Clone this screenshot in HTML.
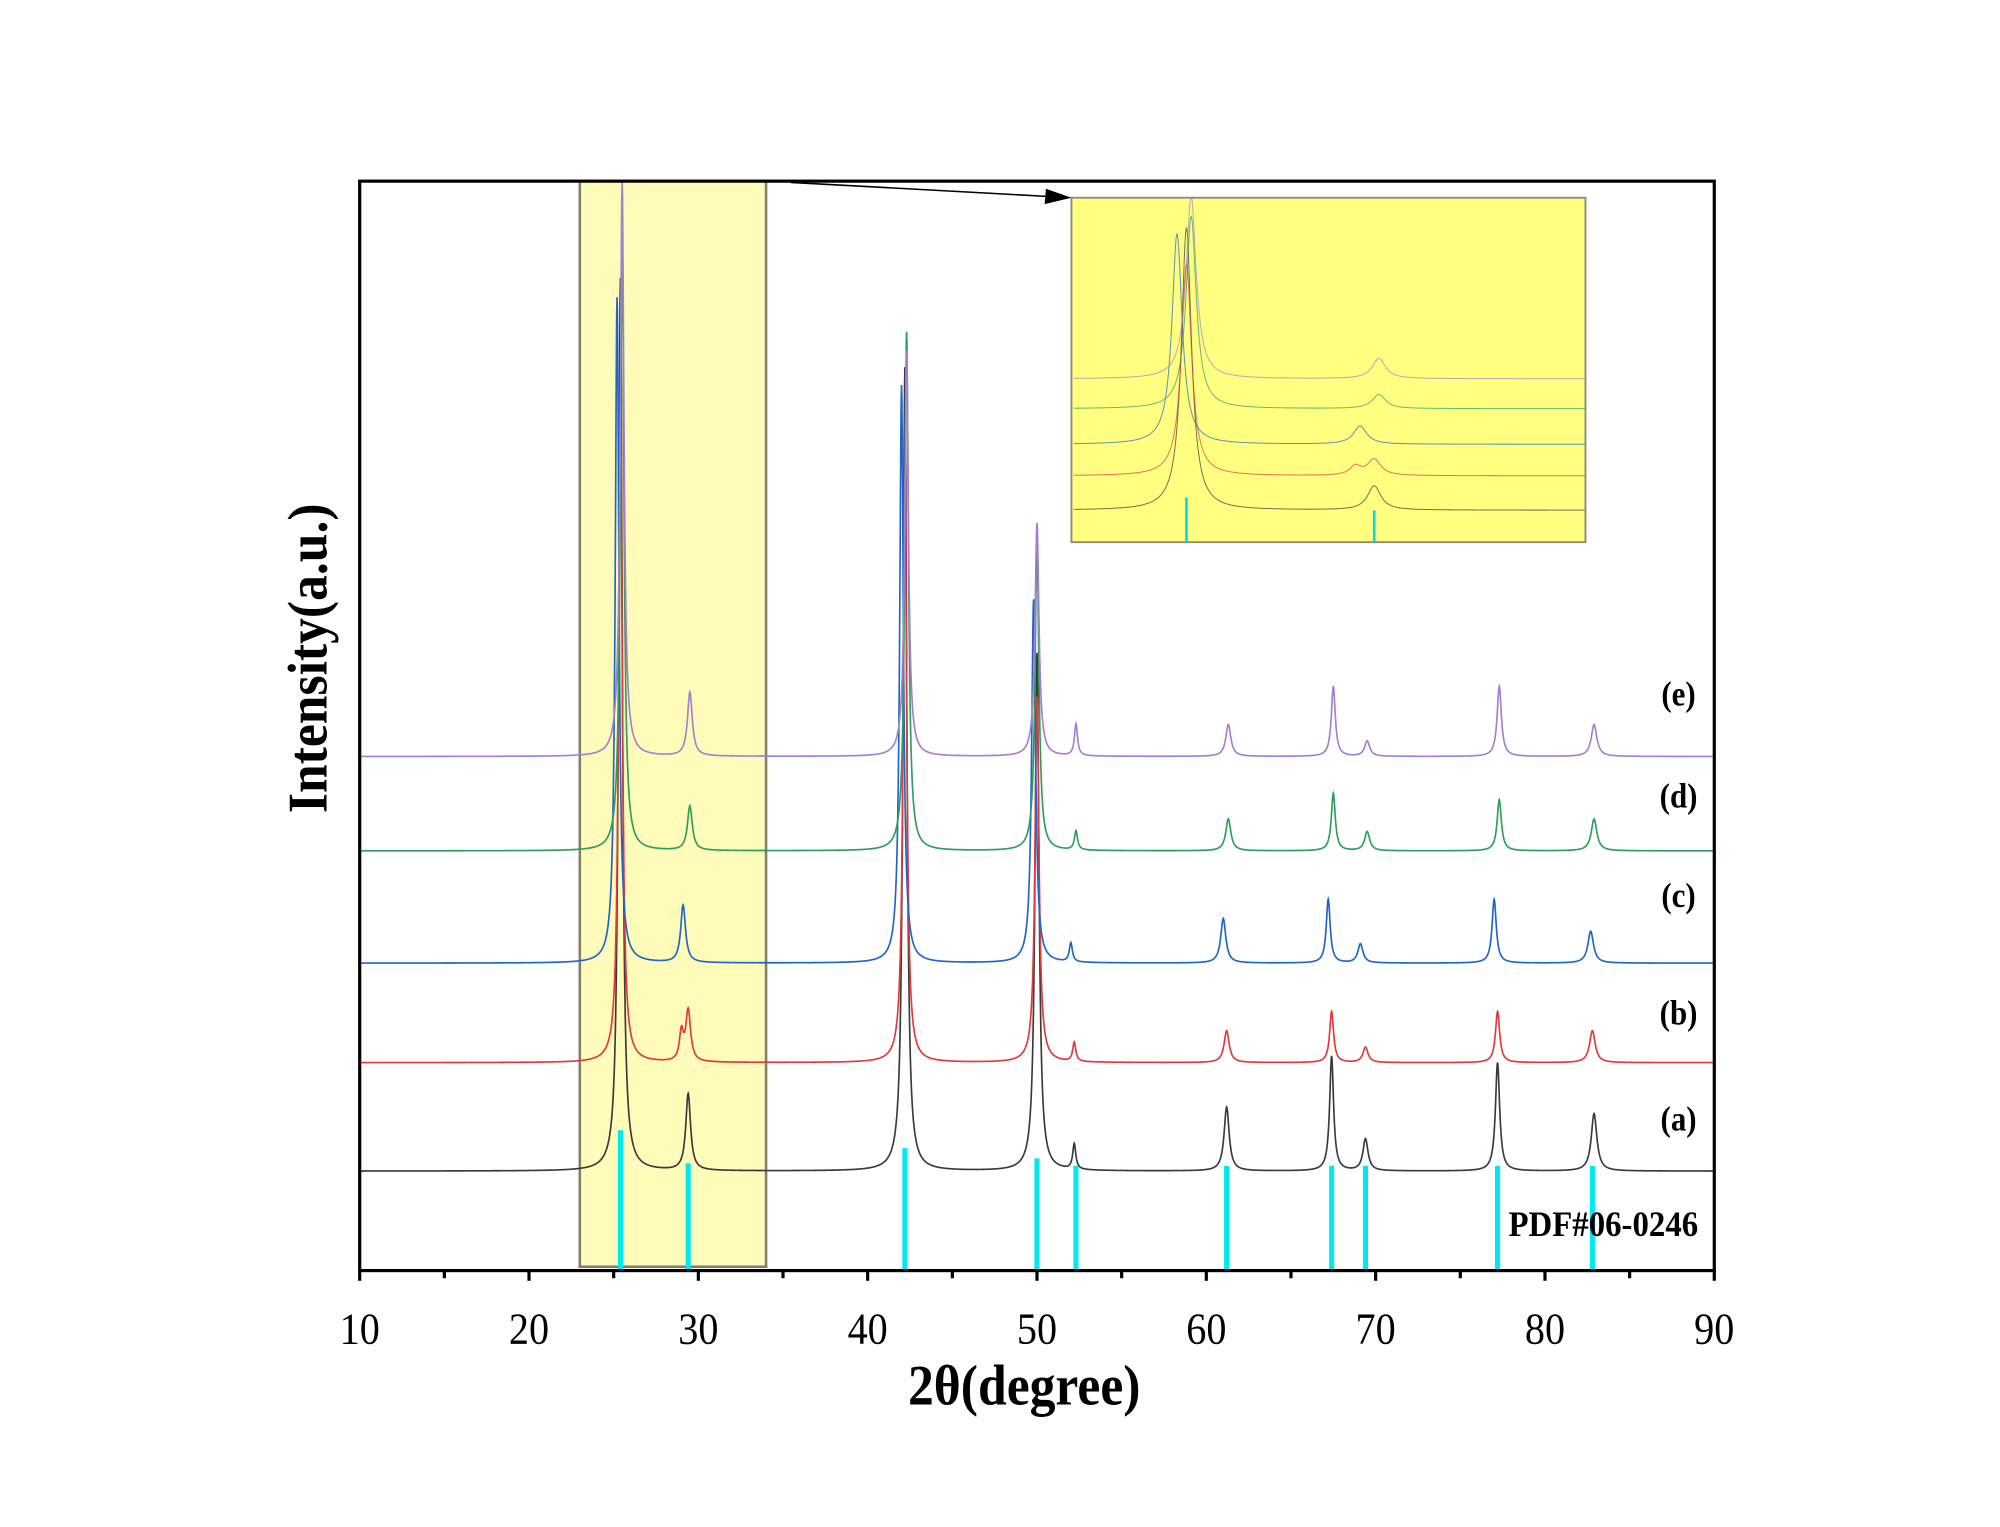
<!DOCTYPE html>
<html><head><meta charset="utf-8">
<style>html,body{margin:0;padding:0;background:#fff}svg{display:block}text{font-family:"Liberation Serif",serif}</style>
</head><body>
<svg id="chart" width="2000" height="1527" viewBox="0 0 1568 1197" preserveAspectRatio="none" xmlns="http://www.w3.org/2000/svg">
<rect x="0" y="0" width="1568" height="1197" fill="#fff"/>
<g id="highlight"></g>
<g id="sticks"></g>
<g id="series"></g>
<g id="inset"></g>
<g id="axes"></g>
</svg>
<script>
const xTicks=[10,20,30,40,50,60,70,80,90];
const seriesNames=['a','b','c','d','e'];
const seriesColors=['#3a3a3a','#e0393e','#1f66c8','#2e9e5e','#a77fd0'];
const baselines=[78,163,241,329,403];
const posA=[25.4,29.4,42.2,50.0,52.2,61.2,67.4,69.4,77.2,82.9];
const posB=[25.4,29.4,42.2,50.0,52.2,61.2,67.4,69.4,77.2,82.8,29.0];
const posC=[25.2,29.1,42.0,49.8,52.0,61.0,67.2,69.1,77.0,82.7];
const posD=[25.5,29.5,42.3,50.0,52.3,61.3,67.5,69.5,77.3,82.9];
const posE=[25.5,29.5,42.3,50.0,52.3,61.3,67.5,69.5,77.3,82.9];
const hA=[700,60,630,406,20,50,90,25,85,45];
const hB=[525,40,459,287,15,25,40,12,40,25,22];
const hC=[522,45,453,285,15,35,50,15,50,25];
const hD=[477,35,407,238,15,25,45,15,40,25];
const hE=[451,50,318,183,25,25,55,12,55,25];
const widths=[0.13,0.17,0.13,0.14,0.11,0.18,0.14,0.18,0.15,0.2,0.14];
const refPos=[25.4,29.4,42.2,50.0,52.3,61.2,67.4,69.4,77.2,82.8];
const refH=[110,84,96,88,82,82,82,82,82,82];
const seriesLabels=['(a)','(b)','(c)','(d)','(e)'];
const labelY=[886,803,711,633,553];

const X0=282,X1=1344,Y0=996,Y1=142;
const xs=v=>X0+(v-10)*(X1-X0)/80;
const ys=v=>Y0-v;
const NS='http://www.w3.org/2000/svg';
function mk(tag,attrs,parent){const e=document.createElementNS(NS,tag);for(const k in attrs)e.setAttribute(k,attrs[k]);parent.appendChild(e);return e;}
const allPos=[posA,posB,posC,posD,posE], allH=[hA,hB,hC,hD,hE];
function val(s,x){let v=baselines[s];const P=allPos[s],H=allH[s];for(let i=0;i<P.length;i++){const g=widths[i];const d=(x-P[i])/g;v+=H[i]/(1+d*d);}return v;}

const hl=document.getElementById('highlight');
const hr=mk('rect',{x:xs(23),y:Y1,width:xs(34)-xs(23),height:993-Y1,fill:'#fffbb8',stroke:'#7f7f6a','stroke-width':2},hl);


const st=document.getElementById('sticks');
refPos.forEach((p,i)=>{const l=mk('line',{x1:xs(p),x2:xs(p),y1:Y0,y2:ys(refH[i]),stroke:'#00e8f0','stroke-width':4},st);
});

const sg=document.getElementById('series');
seriesNames.forEach((n,s)=>{let d='';for(let x=10;x<=90.0001;x+=0.02){d+=(d?'L':'M')+xs(x).toFixed(2)+','+Math.max(Y1,ys(val(s,x))).toFixed(2);}
const p=mk('path',{d:d,fill:'none',stroke:seriesColors[s],'stroke-width':1.3},sg);

const t=mk('text',{x:1316,y:labelY[s],'font-size':27,'font-weight':'bold','text-anchor':'middle',transform:'translate(1316,0) scale(0.9,1) translate(-1316,0)'},sg);t.textContent=seriesLabels[s];
});
const pdf=mk('text',{x:1257,y:969,'font-size':28,'font-weight':'bold','text-anchor':'middle',transform:'translate(1257,0) scale(0.92,1) translate(-1257,0)'},sg);pdf.textContent='PDF#06-0246';


const ig=document.getElementById('inset');
const IX0=840,IX1=1243,IY0=155,IY1=425;
const ixs=v=>IX0+(v-22.95)*(IX1-IX0)/(33.9-22.95);
const iys=v=>400-(v-baselines[0])*0.317;
const ir=mk('rect',{x:IX0,y:IY0,width:IX1-IX0,height:IY1-IY0,fill:'#ffff80',stroke:'#8c8c7a','stroke-width':1.5},ig);

mk('clipPath',{id:'ic'},ig).appendChild(document.createElementNS(NS,'rect'));
const cr=ig.querySelector('#ic rect');cr.setAttribute('x',IX0);cr.setAttribute('y',IY0);cr.setAttribute('width',IX1-IX0);cr.setAttribute('height',IY1-IY0);
[25.4,29.4].forEach((p,i)=>{const l=mk('line',{x1:ixs(p),x2:ixs(p),y1:IY1,y2:i?400:390,stroke:'#00d8e8','stroke-width':2},ig);
});
seriesNames.forEach((n,s)=>{let d='';for(let x=23;x<=33.9;x+=0.02){d+=(d?'L':'M')+ixs(x).toFixed(2)+','+iys(val(s,x)).toFixed(2);}
const p=mk('path',{d:d,fill:'none',stroke:seriesColors[s],'stroke-width':0.8,opacity:0.7,'clip-path':'url(#ic)'},ig);
});
const ar=mk('line',{x1:620,y1:143,x2:822,y2:154,stroke:'#000','stroke-width':1.2},ig);

mk('polygon',{points:'840,155 820,148 819,160',fill:'#000'},ig);

const ax=document.getElementById('axes');
const fr=mk('rect',{x:X0,y:Y1,width:X1-X0,height:Y0-Y1,fill:'none',stroke:'#000','stroke-width':2.5},ax);

for(let v=10;v<=90;v+=5){const maj=v%10===0;mk('line',{x1:xs(v),x2:xs(v),y1:Y0,y2:Y0+(maj?8:6),stroke:'#000','stroke-width':2.5},ax);}
xTicks.forEach(v=>{const t=mk('text',{x:xs(v),y:1053,'font-size':35,'text-anchor':'middle',transform:`translate(${xs(v)},0) scale(0.9,1) translate(${-xs(v)},0)`},ax);t.textContent=v;
});
const xt=mk('text',{x:803,y:1101,'font-size':45,'font-weight':'bold','text-anchor':'middle',transform:'translate(803,0) scale(0.9,1) translate(-803,0)'},ax);xt.textContent='2θ(degree)';

const yt=mk('text',{x:0,y:0,'font-size':44,'font-weight':'bold','text-anchor':'middle',transform:'translate(256,516) rotate(-90) scale(0.92,1)'},ax);yt.textContent='Intensity(a.u.)';

</script>
</body></html>
